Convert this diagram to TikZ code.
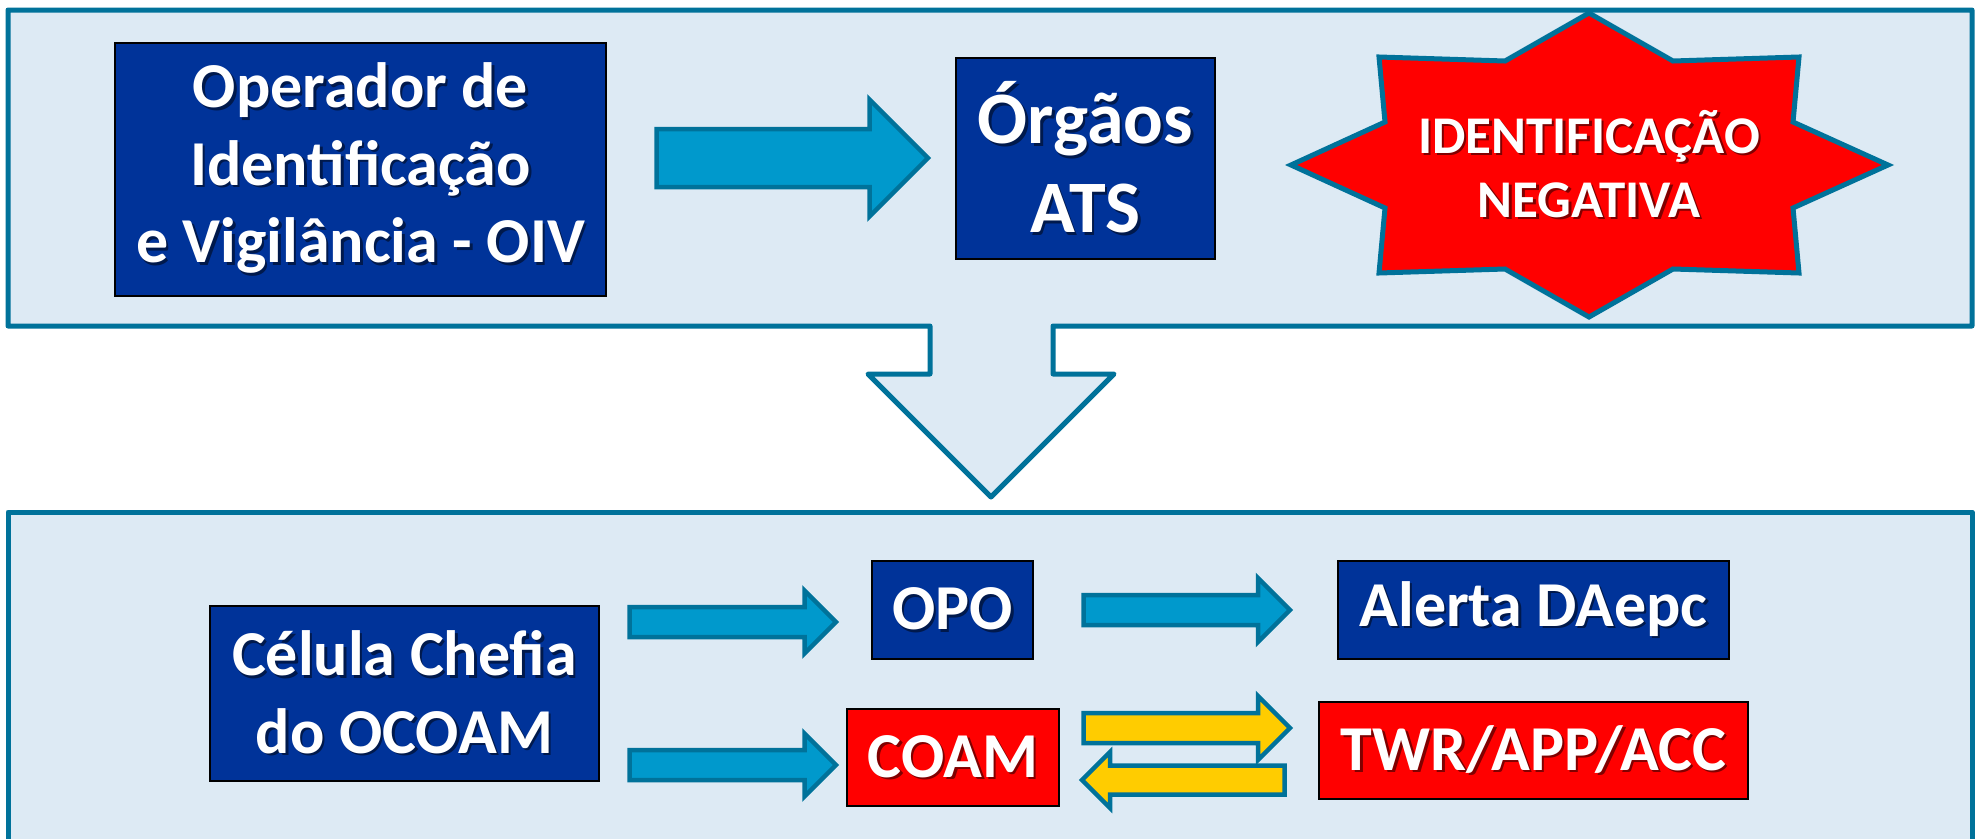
\documentclass[tikz,border=0pt]{standalone}
\usepackage{fontspec}
\setmainfont{Carlito}
\usetikzlibrary{shapes.arrows}

\definecolor{fundopainel}{HTML}{DDEAF4}
\definecolor{bordapainel}{HTML}{00729A}
\definecolor{azulcaixa}{HTML}{003399}
\definecolor{azulseta}{HTML}{0099CC}
\definecolor{amareloseta}{HTML}{FFCC00}
\colorlet{corsombra}{black!60}

\newcommand{\sombra}[1]{\rlap{\hspace{2.5pt}\raisebox{-2.5pt}{\textcolor{corsombra}{#1}}}#1}

\tikzset{
	painel/.style={draw=bordapainel, fill=fundopainel, line width=5pt, line join=round},
	caixa/.style={draw=black, line width=2pt, fill=azulcaixa, text=white, align=center, inner sep=0pt,
		font=\bfseries\fontsize{64}{77.5}\selectfont,
		execute at begin node={\colorlet{corsombra}{azulcaixa!50!black}}},
	caixavermelha/.style={caixa, fill=red,
		execute at begin node={\colorlet{corsombra}{red!50!black}}},
	seta/.style={single arrow, draw=bordapainel, fill=azulseta, line width=4.5pt, inner xsep=0pt,
		single arrow tip angle=90, anchor=tail},
	setaamarela/.style={seta, fill=amareloseta}
}

\begin{document}
\begin{tikzpicture}[x=1pt, y=-1pt]

		\useasboundingbox (0, 0) rectangle (1980, 838);
		\clip (0, 0) rectangle (1980, 838);

		\draw[painel] (8, 10) -- (1972, 10) -- (1972, 326) -- (1053, 326) -- (1053, 374) -- (1114, 374) -- (991, 497) -- (868, 374) -- (930, 374) -- (930, 326) -- (8, 326) -- cycle;
		\draw[painel] (8, 512) rectangle (1972, 870);

		\node[caixa, minimum width=491, minimum height=253] (oiv) at (360.5, 169.5)
			{\sombra{Operador de}\\\sombra{Identificação}\\\sombra{e Vigilância - OIV}};
		\node[caixa, minimum width=259, minimum height=201, font=\bfseries\fontsize{74}{89}\selectfont] (ats) at (1085.5, 158.5)
			{\sombra{Órgãos}\\\sombra{ATS}};

		\draw[draw=bordapainel, fill=red, line width=5pt, shift={(1589, 165)}] (0, -152) -- (84, -104) -- (210, -108) -- (204, -43) -- (299, 0) -- (204, 43) -- (210, 108) -- (84, 104) -- (0, 152) -- (-84, 104) -- (-210, 108) -- (-204, 43) -- (-298, 0) -- (-204, -43) -- (-210, -108) -- (-84, -104) -- cycle;
		\node[align=center, text=white, font=\bfseries\fontsize{53}{64}\selectfont,
			execute at begin node={\colorlet{corsombra}{red!50!black}}] (negativa) at (1589, 165)
			{\sombra{IDENTIFICAÇÃO}\\\sombra{NEGATIVA}};

		\node[seta, minimum height=271.5, inner ysep=26.75, single arrow head extend=29.5] (s1) at (654.25, 158) {};

		\node[caixa, minimum width=389, minimum height=175] (chefia) at (404.5, 693.5)
			{\sombra{Célula Chefia}\\\sombra{do OCOAM}};
		\node[caixa, minimum width=161, minimum height=98] (opo) at (952.5, 610) {\sombra{OPO}};
		\node[caixa, minimum width=391, minimum height=98] (alerta) at (1533.5, 610) {\sombra{Alerta DAepc}};
		\node[caixavermelha, minimum width=212, minimum height=97] (coam) at (953, 757.5) {\sombra{COAM}};
		\node[caixavermelha, minimum width=429, minimum height=97] (twr) at (1533.5, 750.5) {\sombra{TWR/APP/ACC}};

		\node[seta, minimum height=206.5, inner ysep=12.75, single arrow head extend=16.5] (s2) at (627.25, 622) {};
		\node[seta, minimum height=206.5, inner ysep=12.75, single arrow head extend=16.5] (s3) at (627.25, 765) {};
		\node[seta, minimum height=206.5, inner ysep=12.75, single arrow head extend=17] (s4) at (1081.25, 610) {};
		\node[setaamarela, minimum height=206.5, inner ysep=12.75, single arrow head extend=17] (s5) at (1081.25, 728) {};
		\node[setaamarela, minimum height=202.5, inner ysep=12.25, single arrow head extend=13.5, shape border rotate=180] (s6) at (1286.75, 780) {};

\end{tikzpicture}
\end{document}
